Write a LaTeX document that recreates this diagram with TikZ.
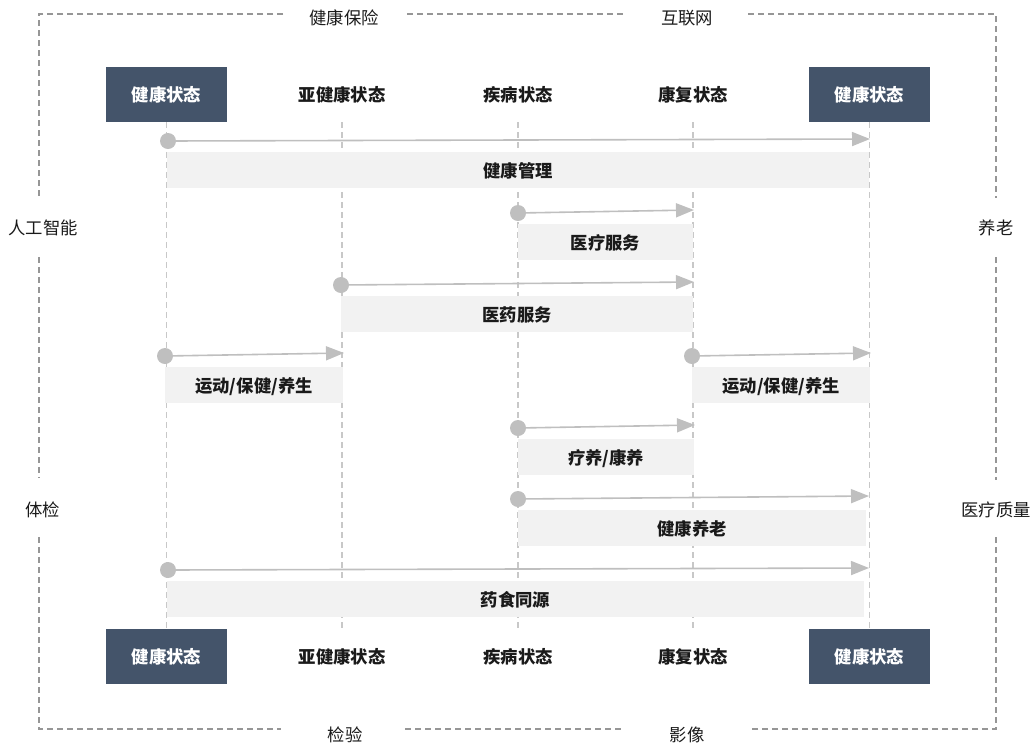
\documentclass[tikz,border=0pt]{standalone}
\usepackage{fontspec}
\setmainfont{Noto Sans CJK SC}
\usetikzlibrary{arrows.meta}
\definecolor{boxc}{RGB}{68,84,106}
\definecolor{barc}{RGB}{242,242,242}
\definecolor{arrc}{RGB}{191,191,191}
\definecolor{colc}{RGB}{200,200,200}
\definecolor{framec}{RGB}{150,150,150}
\definecolor{txtc}{RGB}{26,26,26}
\begin{document}
\begin{tikzpicture}[x=0.75pt,y=-0.75pt,
  font=\fontsize{13}{15}\selectfont,
  statebox/.style={fill=boxc,text=white,font=\fontsize{13}{15}\selectfont\bfseries,minimum width=90.75pt,minimum height=41.25pt,inner sep=0pt},
  statelbl/.style={text=txtc,font=\fontsize{13}{15}\selectfont\bfseries,inner sep=0pt},
  framelbl/.style={text=txtc,inner sep=0pt},
  bar/.style={fill=barc,text=txtc,font=\fontsize{13}{15}\selectfont\bfseries,minimum height=27pt,inner sep=0pt,text depth=0pt,yshift=-0.8pt},
  dot/.style={circle,fill=arrc,minimum size=12pt,inner sep=0pt},
  flow/.style={draw=arrc,line width=1.2pt,-{Triangle[length=13.5pt,width=10.5pt]}},
  colline/.style={draw=colc,line width=0.9pt,dash pattern=on 4.5pt off 3pt},
  frameline/.style={draw=framec,line width=0.9pt,dash pattern=on 4.5pt off 3pt}]
\useasboundingbox (0,0) rectangle (1035,747);

% frame
\node[framelbl] (ft1) at (344,18) {健康保险};
\node[framelbl] (ft2) at (687,18) {互联网};
\node[framelbl] (fb1) at (345,735) {检验};
\node[framelbl] (fb2) at (687,735) {影像};
\node[framelbl] (fl1) at (43,228) {人工智能};
\node[framelbl] (fl2) at (43,510) {体检};
\node[framelbl] (fr1) at (996,228) {养老};
\node[framelbl] (fr2) at (996,510) {医疗质量};
\draw[frameline] (283,14) -- (39,14) -- (39,197);
\draw[frameline] (39,257) -- (39,478);
\draw[frameline] (39,537) -- (39,729) -- (281,729);
\draw[frameline] (407,14) -- (624,14);
\draw[frameline] (748,14) -- (996,14) -- (996,198);
\draw[frameline] (996,257) -- (996,480);
\draw[frameline] (996,537) -- (996,729) -- (750,729);
\draw[frameline] (405,729) -- (625,729);

% state headers
\node[statebox] (t1) at (166.5,94.5) {健康状态};
\node[statelbl] (t2) at (342,95) {亚健康状态};
\node[statelbl] (t3) at (518,95) {疾病状态};
\node[statelbl] (t4) at (693,95) {康复状态};
\node[statebox] (t5) at (869.5,94.5) {健康状态};
\node[statebox] (b1) at (166.5,656.5) {健康状态};
\node[statelbl] (b2) at (342,657) {亚健康状态};
\node[statelbl] (b3) at (518,657) {疾病状态};
\node[statelbl] (b4) at (693,657) {康复状态};
\node[statebox] (b5) at (869.5,656.5) {健康状态};

% column lines
\coordinate (c2t) at (342,122); \coordinate (c2b) at (342,629);
\coordinate (c3t) at (518,122); \coordinate (c3b) at (518,629);
\coordinate (c4t) at (693,122); \coordinate (c4b) at (693,629);
\draw[colline] (t1.south) -- (b1.north);
\draw[colline] (c2t) -- (c2b);
\draw[colline] (c3t) -- (c3b);
\draw[colline] (c4t) -- (c4b);
\draw[colline] (t5.south) -- (b5.north);

% bars
\node[bar,minimum width=526.5pt] (r1) at (518,169) {健康管理};
\node[bar,minimum width=131.25pt] (r2) at (605.5,241) {医疗服务};
\node[bar,minimum width=264pt] (r3) at (517,313) {医药服务};
\node[bar,minimum width=133.5pt] (r4a) at (254,384) {运动/保健/养生};
\node[bar,minimum width=133.5pt] (r4b) at (781,384) {运动/保健/养生};
\node[bar,minimum width=132pt] (r5) at (606,456) {疗养/康养};
\node[bar,minimum width=261pt] (r6) at (692,527) {健康养老};
\node[bar,minimum width=522.75pt] (r7) at (515.5,598) {药食同源};

% flows
\coordinate (e1) at (870,139);
\coordinate (e2) at (694,210);
\coordinate (e3) at (694,282);
\coordinate (e4a) at (344,353);
\coordinate (e4b) at (871,353);
\coordinate (e5) at (695,425);
\coordinate (e6) at (869,496);
\coordinate (e7) at (869,568);
\draw[flow] (168,141) -- (e1);
\draw[flow] (518,213) -- (e2);
\draw[flow] (341,285) -- (e3);
\draw[flow] (165,356) -- (e4a);
\draw[flow] (692,356) -- (e4b);
\draw[flow] (518,428) -- (e5);
\draw[flow] (518,499) -- (e6);
\draw[flow] (168,570) -- (e7);
\node[dot] (d1) at (168,141) {};
\node[dot] (d2) at (518,213) {};
\node[dot] (d3) at (341,285) {};
\node[dot] (d4a) at (165,356) {};
\node[dot] (d4b) at (692,356) {};
\node[dot] (d5) at (518,428) {};
\node[dot] (d6) at (518,499) {};
\node[dot] (d7) at (168,570) {};
\end{tikzpicture}
\end{document}
